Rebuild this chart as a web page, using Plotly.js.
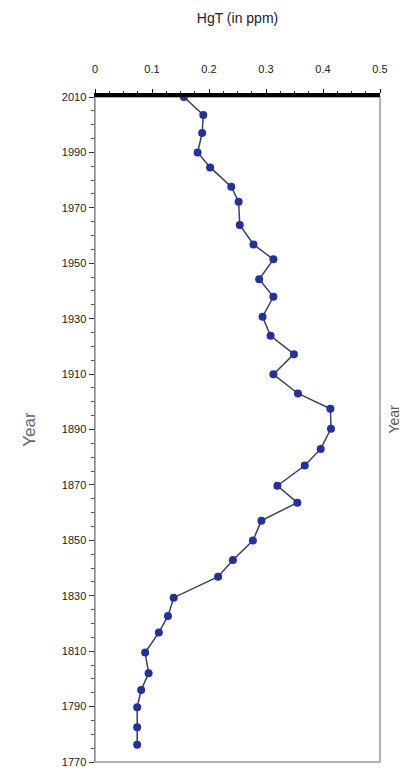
<!DOCTYPE html>
<html><head><meta charset="utf-8">
<script src="https://cdn.plot.ly/plotly-3.0.1.min.js"></script>
<style>html,body{margin:0;padding:0;background:#fff}#chart{width:412px;height:770px}</style>
</head><body><div id="chart"></div>
<script>
const years = [2010, 2003.5, 1997, 1990, 1984.6, 1977.6, 1972.2, 1963.8, 1956.8, 1951.4, 1944.2, 1937.9, 1930.7, 1923.8, 1917.2, 1909.9, 1903.0, 1897.5, 1890.3, 1883.0, 1877.0, 1869.7, 1863.6, 1857.1, 1849.9, 1842.9, 1836.9, 1829.3, 1822.7, 1816.7, 1809.5, 1802.0, 1796.0, 1789.8, 1782.5, 1776.2];
const hgt = [0.156, 0.190, 0.188, 0.180, 0.202, 0.239, 0.252, 0.254, 0.278, 0.313, 0.288, 0.313, 0.294, 0.308, 0.349, 0.313, 0.356, 0.413, 0.414, 0.396, 0.368, 0.320, 0.355, 0.292, 0.277, 0.242, 0.216, 0.138, 0.128, 0.112, 0.088, 0.094, 0.081, 0.074, 0.074, 0.074];
const xTicks = [0, 0.1, 0.2, 0.3, 0.4, 0.5];
const xTickLabels = ['0', '0.1', '0.2', '0.3', '0.4', '0.5'];
const yTicks = [2010, 1990, 1970, 1950, 1930, 1910, 1890, 1870, 1850, 1830, 1810, 1790, 1770];

const narrow = '"Liberation Sans Narrow", "Arial Narrow", "Liberation Sans", Arial, sans-serif';

const trace = {
  x: hgt, y: years, type: 'scatter', mode: 'lines+markers',
  line: {color: '#3b3f66', width: 1.5},
  marker: {color: '#25309a', size: 8},
  cliponaxis: false, hoverinfo: 'skip'
};

const layout = {
  width: 412, height: 770,
  margin: {l: 95, r: 32, t: 97, b: 8},
  paper_bgcolor: '#fff', plot_bgcolor: '#fff',
  showlegend: false,
  title: {text: 'HgT (in ppm)', x: 0.5, xref: 'paper', xanchor: 'center',
          y: 0.977, yref: 'container', yanchor: 'middle', automargin: false,
          font: {family: narrow, size: 14, color: '#222'}},
  xaxis: {
    side: 'top', range: [0, 0.5], tickvals: xTicks, ticktext: xTickLabels,
    showgrid: false, zeroline: false,
    showline: true, linecolor: '#000', linewidth: 4,
    ticks: 'outside', ticklen: 4, tickcolor: '#000', ticklabelstandoff: 12,
    minor: {dtick: 0.025, ticks: 'outside', ticklen: 2, tickcolor: '#333'},
    tickfont: {family: narrow, size: 11, color: '#222'}
  },
  yaxis: {
    range: [1770, 2010], tickvals: yTicks,
    showgrid: false, zeroline: false,
    showline: true, linecolor: '#888', linewidth: 1.5,
    ticks: 'outside', ticklen: 5, tickcolor: '#333',
    minor: {dtick: 5, ticks: 'outside', ticklen: 3, tickcolor: '#555'},
    tickfont: {family: narrow, size: 11, color: '#222'},
    title: {text: 'Year', font: {family: 'Liberation Sans, Arial, sans-serif', size: 17, color: '#666'}, standoff: 22}
  },
  shapes: [{type: 'rect', xref: 'paper', yref: 'paper', x0: 0, x1: 1, y0: 0, y1: 1,
            line: {color: '#999', width: 1.5}, layer: 'below'}],
  annotations: [{text: 'Year', xref: 'paper', yref: 'paper', x: 1, y: 0.515, xshift: 14,
                 xanchor: 'center', yanchor: 'middle', textangle: -90, showarrow: false,
                 font: {family: 'Liberation Sans, Arial, sans-serif', size: 14, color: '#555'}}]
};

Plotly.newPlot('chart', [trace], layout, {staticPlot: true, displayModeBar: false});
</script>
</body></html>
